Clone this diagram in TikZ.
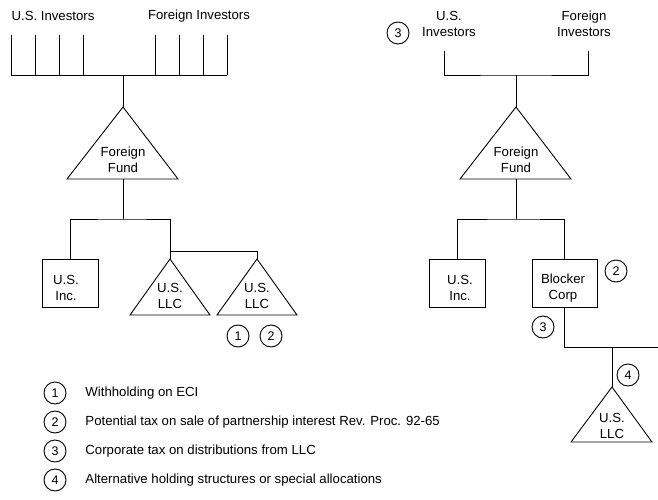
\documentclass[tikz,border=0pt]{standalone}
\usepackage{fontspec}
\setmainfont{Liberation Sans}
\begin{document}
\begin{tikzpicture}[x=1pt,y=-1pt,
  font=\fontsize{13.2}{16.5}\selectfont,
  line width=0.9pt,
  lbl/.style={inner sep=0pt, align=center},
  num/.style={circle, draw, line width=0.9pt, minimum size=22pt, inner sep=0pt, font=\fontsize{12.5}{14}\selectfont},
  entity/.style={draw, line width=0.9pt, minimum height=48pt},
  legend/.style={inner sep=0pt, anchor=west}]
\useasboundingbox (0,0) rectangle (658,500);

% ---------------- left structure ----------------
\node[lbl] (usinvL) at (53,16) {U.S. Investors};
\node[lbl] (forinvL) at (199,16) {Foreign Investors};
\foreach \i/\x in {1/11,2/35,3/59,4/83,5/155,6/179,7/203,8/227} {
  \coordinate (invtop\i) at (\x,35);
  \coordinate (invbot\i) at (\x,75);
  \draw (invtop\i) -- (invbot\i);
}
\draw (invbot1) -- (invbot8);

% foreign fund (left)
\coordinate (ffLapex) at (123,107);
\coordinate (ffLleft) at (67,179);
\coordinate (ffLright) at (178,179);
\coordinate (ffLbase) at (123,179);
\coordinate (ffLtop) at (123,75);
\draw (ffLapex) -- (ffLleft) -- (ffLright) -- cycle;
\node[lbl] (ffLtext) at (123,160) {Foreign\\Fund};
\draw (ffLtop) -- (ffLapex);

% subsidiaries (left)
\node[entity, minimum width=56pt] (incL) at (70,283) {};
\node[lbl] (incLtext) at (66,288) {U.S.\\Inc.};

\coordinate (llc1apex) at (170,259);
\draw (llc1apex) -- (130,315) -- (210,315) -- cycle;
\node[lbl] (llc1text) at (170,296) {U.S.\\LLC};

\coordinate (llc2apex) at (257,259);
\draw (llc2apex) -- (217,315) -- (297,315) -- cycle;
\node[lbl] (llc2text) at (257,296) {U.S.\\LLC};

\coordinate (ffLjoin) at (123,219);
\draw (ffLbase) -- (ffLjoin);
\draw (incL.north) |- (ffLjoin) -| (llc1apex);
\coordinate (llcbranch) at (170,251);
\draw (llcbranch) -| (llc2apex);

\node[num] (c1L) at (238,336) {1};
\node[num] (c2L) at (271,336) {2};

% ---------------- right structure ----------------
\node[num] (c3top) at (398,33) {3};
\node[lbl] (usinvR) at (449,24) {U.S.\\Investors};
\node[lbl] (forinvR) at (584,24) {Foreign\\Investors};
\coordinate (usR) at (444,51);
\coordinate (forR) at (588,51);
\coordinate (barR) at (516,75);
\draw (usR) |- (barR) -| (forR);

\coordinate (ffRapex) at (516,107);
\coordinate (ffRbase) at (516,179);
\draw (ffRapex) -- (460,179) -- (571,179) -- cycle;
\node[lbl] (ffRtext) at (516,160) {Foreign\\Fund};
\draw (barR) -- (ffRapex);

\node[entity, minimum width=56pt] (incR) at (457,283) {};
\node[lbl] (incRtext) at (460,288) {U.S.\\Inc.};
\node[entity, minimum width=65pt] (blocker) at (564.5,283) {};
\node[lbl] (blockertext) at (563,288) {Blocker\\Corp};

\coordinate (ffRjoin) at (516,219);
\draw (ffRbase) -- (ffRjoin);
\draw (incR.north) |- (ffRjoin) -| (blocker.north);

\node[num] (c2R) at (616,271) {2};
\node[num] (c3R) at (543,327) {3};

\coordinate (blkturn) at (564.5,347);
\coordinate (blkend) at (658,347);
\draw (blocker.south) -- (blkturn) -- (blkend);

\coordinate (llcRtop) at (612,347);
\coordinate (llcRapex) at (612,387);
\draw (llcRtop) -- (llcRapex);
\draw (llcRapex) -- (571,442) -- (652,442) -- cycle;
\node[lbl] (llcRtext) at (612,426) {U.S.\\LLC};
\node[num] (c4R) at (628,375) {4};

% ---------------- legend ----------------
\node[num] (k1) at (55,393) {1};
\node[num] (k2) at (55,422) {2};
\node[num] (k3) at (55,451) {3};
\node[num] (k4) at (55,480) {4};
\node[legend] (t1) at (85,393) {Withholding on ECI};
\node[legend] (t2) at (85,422) {Potential tax on sale of partnership interest Rev. Proc. 92-65};
\node[legend] (t3) at (85,451) {Corporate tax on distributions from LLC};
\node[legend] (t4) at (85,480) {Alternative holding structures or special allocations};
\end{tikzpicture}
\end{document}
